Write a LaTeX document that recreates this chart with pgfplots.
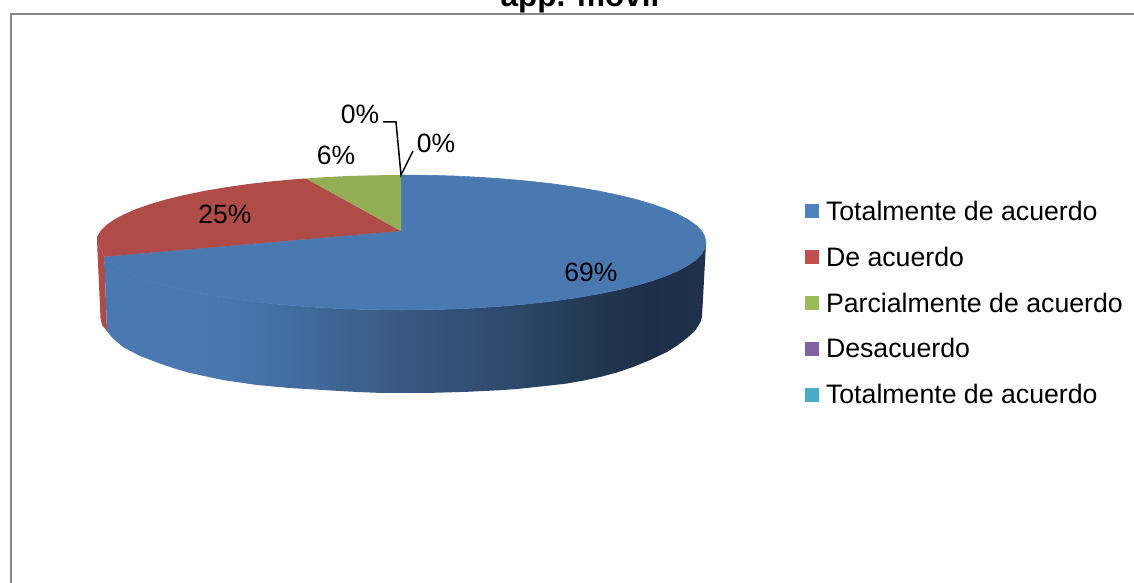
\documentclass[border=0pt]{standalone}
\usepackage{fontspec}
\setmainfont{Liberation Sans}
\usepackage{pgfplots}
\pgfplotsset{compat=1.18}

\definecolor{topblue}{HTML}{4A79B2}
\definecolor{topred}{HTML}{B04C47}
\definecolor{topgreen}{HTML}{92AD53}
\definecolor{lgblue}{HTML}{4F81BD}
\definecolor{lgred}{HTML}{C0504D}
\definecolor{lggreen}{HTML}{9BBB59}
\definecolor{lgpurple}{HTML}{8064A2}
\definecolor{lgteal}{HTML}{4BACC6}
\definecolor{frame}{HTML}{888888}
\definecolor{wallA}{HTML}{4571A6}
\definecolor{wallB}{HTML}{395A84}
\definecolor{wallC}{HTML}{2E4A6D}
\definecolor{wallD}{HTML}{22374F}
\definecolor{wallE}{HTML}{1E3049}
\definecolor{wallF}{HTML}{20324B}

% shading of the front wall, the path's box covers 25bp to 75bp
\pgfdeclarehorizontalshading{wall}{100bp}{
  color(0bp)=(topblue); color(33bp)=(topblue);
  color(38.5bp)=(wallA); color(49bp)=(wallB);
  color(58bp)=(wallC); color(66bp)=(wallD);
  color(70bp)=(wallE); color(75bp)=(wallF); color(100bp)=(wallF)}

\newcommand{\lab}{\fontsize{26.5}{30}\selectfont}
\newcommand{\leg}{\fontsize{26.7}{30}\selectfont}

\begin{document}
\begin{tikzpicture}
\useasboundingbox (0,0) rectangle (1134pt,583pt);
\clip (0,0) rectangle (1134pt,583pt);
\begin{axis}[
  at={(0,0)}, anchor=south west,
  scale only axis,
  width=1134pt, height=583pt,
  xmin=0, xmax=1134,
  ymin=0, ymax=583,
  y dir=reverse,
  hide axis,
  clip=true,
  legend image code/.code={\fill[draw=none,#1] (0pt,-7pt) rectangle (14pt,7pt);},
  legend cell align=left,
  legend style={
    at={(axis cs:805,201)}, anchor=north west,
    draw=none, fill=none, inner sep=0pt, outer sep=0pt,
    font=\leg, row sep=25pt,
    nodes={inner sep=0pt, outer sep=0pt},
    /tikz/every odd column/.append style={column sep=7pt},
  },
]
% chart frame, runs off the right and bottom of the picture
\addplot[draw=frame, line width=2pt, forget plot] coordinates {
  (10.5,600)(10.5,14)(1150,14)};

% front wall, red sliver
\addplot[fill=topred, draw=none, forget plot] coordinates {
  (97,241)(104.3,256.7)(107,331)(102,325)(100.5,318)} -- cycle;
% front wall, blue
\addplot[shade, shading=wall, draw=none, forget plot] coordinates {
  (104.3,256.7)(106.4,260)(114.4,265.6)(124.6,271)(136.9,276.25)(151.2,281.2)
  (167.4,285.9)(185.3,290.2)(204.9,294.2)(226.1,297.8)(248.5,301)(272.1,303.7)
  (296.7,305.9)(322.1,307.7)(348,309)(374.4,309.7)(401,310)(427.6,309.7)(454,309)
  (479.9,307.7)(505.3,305.9)(529.9,303.7)(553.5,301)(575.9,297.8)(597.1,294.2)
  (616.7,290.2)(634.6,285.9)(650.8,281.2)(665.1,276.25)(677.4,271)(687.6,265.6)
  (695.6,260)(701.4,254.2)(704.8,248.4)(706,243)
  (702,317)(700.5,322)(695,331)(687,338)(678,345)(667,352)(650,360)(633,367)
  (617,372.5)(600,377)(584,380.5)(567,383.5)(550,385.5)(533,387.3)(517,389)
  (500,390.2)(467,391.8)(433,392.8)(400,393)(378,392.8)(357,392)(323,390)(290,388)
  (257,385)(223,380)(190,373)(173,368)(157,362.5)(139,355.5)(123,347)(112,337.5)(107,331)
} -- cycle;

% top face: 69, 25, 6 per cent
\addplot[fill=topblue, draw=topblue, line width=0.6pt, forget plot] coordinates {
  (401,231)(401,175)(427.6,175.3)(454,176)(479.9,177.3)(505.3,179.1)(529.9,181.3)
  (553.5,184)(575.9,187.2)(597.1,190.8)(616.7,194.8)(634.6,199.1)(650.8,203.8)
  (665.1,208.75)(677.4,214)(687.6,219.4)(695.6,225)(701.4,230.8)(704.8,236.6)(706,243)
  (704.8,248.4)(701.4,254.2)(695.6,260)(687.6,265.6)(677.4,271)(665.1,276.25)
  (650.8,281.2)(634.6,285.9)(616.7,290.2)(597.1,294.2)(575.9,297.8)(553.5,301)
  (529.9,303.7)(505.3,305.9)(479.9,307.7)(454,309)(427.6,309.7)(401,310)(374.4,309.7)
  (348,309)(322.1,307.7)(296.7,305.9)(272.1,303.7)(248.5,301)(226.1,297.8)(204.9,294.2)
  (185.3,290.2)(167.4,285.9)(151.2,281.2)(136.9,276.25)(124.6,271)(114.4,265.6)
  (106.4,260)(104.3,256.7)} -- cycle;
\addplot[fill=topred, draw=none, forget plot] coordinates {
  (401,231)(104.3,256.7)(97,241)(97.2,236.6)(100.6,230.8)(106.4,225)(114.4,219.4)
  (124.6,214)(136.9,208.75)(151.2,203.8)(167.4,199.1)(185.3,194.8)(204.9,190.8)
  (226.1,187.2)(248.5,184)(272.1,181.3)(296.7,179.1)(306,178.5)} -- cycle;
\addplot[fill=topgreen, draw=none, forget plot] coordinates {
  (401,231)(306,178.5)(322.1,177.3)(348,176)(374.4,175.3)(401,175)} -- cycle;

% leader lines of the two empty slices
\addplot[black, line width=1.5pt, forget plot] coordinates {(383,122)(396,122)(401,175)(413,151)};

\addlegendimage{fill=lgblue}
\addlegendentry{Totalmente de acuerdo}
\addlegendimage{fill=lgred}
\addlegendentry{De acuerdo}
\addlegendimage{fill=lggreen}
\addlegendentry{Parcialmente de acuerdo}
\addlegendimage{fill=lgpurple}
\addlegendentry{Desacuerdo}
\addlegendimage{fill=lgteal}
\addlegendentry{Totalmente de acuerdo}

\node[font=\lab] at (axis cs:591,272) {69\%};
\node[font=\lab] at (axis cs:225,214) {25\%};
\node[font=\lab] at (axis cs:336,155) {6\%};
\node[font=\lab] at (axis cs:360,114) {0\%};
\node[font=\lab] at (axis cs:436,143) {0\%};
\node[font=\fontsize{31.5}{36}\selectfont\bfseries, anchor=base] at (axis cs:580,7) {app. movil};
\end{axis}
\end{tikzpicture}
\end{document}
